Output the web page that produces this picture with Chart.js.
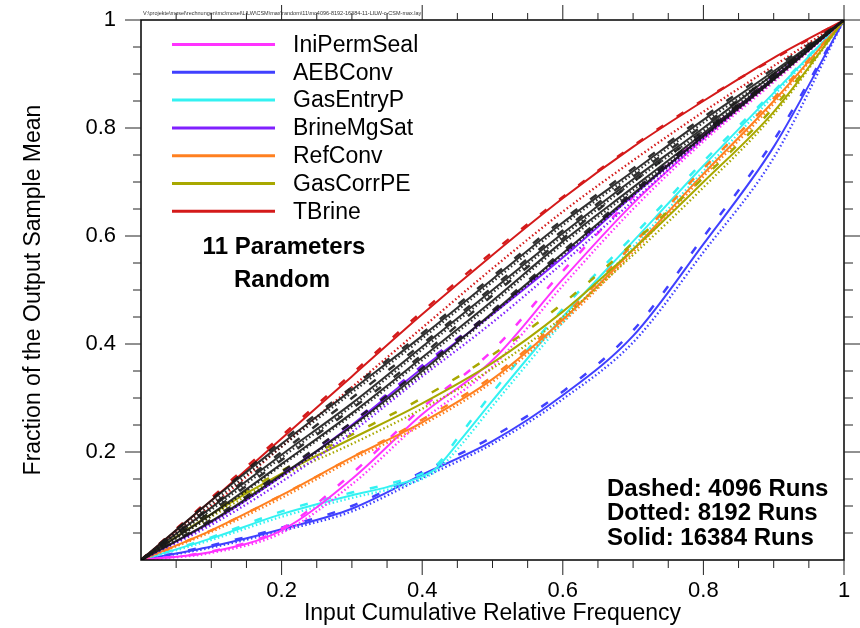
<!DOCTYPE html>
<html>
<head>
<meta charset="utf-8">
<script src="https://cdn.jsdelivr.net/npm/chart.js@4/dist/chart.umd.min.js"></script>
<style>
  html, body { margin: 0; padding: 0; background: #fff; }
  canvas { display: block; }
</style>
</head>
<body>
<canvas id="chart" width="860" height="628"></canvas>
<script>
// input cumulative relative frequency (common grid)
const X = [0, 0.1, 0.2, 0.3, 0.4, 0.5, 0.6, 0.7, 0.8, 0.9, 1];
// finer grid for GasEntryP (kink near 0.4)
const XC = [0, 0.1, 0.2, 0.3, 0.35, 0.4, 0.42, 0.45, 0.5, 0.6, 0.7, 0.8, 0.9, 1];

// fraction of output sample mean: dashed = 4096, dotted = 8192, solid = 16384 runs
const tbrineDash  = [0, 0.115, 0.23, 0.345, 0.46, 0.57, 0.672, 0.767, 0.852, 0.928, 1];
const tbrineDot   = [0, 0.1, 0.21, 0.32, 0.43, 0.54, 0.645, 0.74, 0.83, 0.915, 1];
const tbrineSolid = [0, 0.11, 0.225, 0.34, 0.455, 0.565, 0.67, 0.765, 0.85, 0.93, 1];

const blk1Dash  = [0, 0.112, 0.22, 0.32, 0.42, 0.525, 0.63, 0.725, 0.82, 0.91, 1];
const blk1Dot   = [0, 0.105, 0.21, 0.31, 0.41, 0.515, 0.62, 0.715, 0.81, 0.9, 1];
const blk1Solid = [0, 0.11, 0.215, 0.315, 0.415, 0.52, 0.625, 0.72, 0.815, 0.905, 1];
const blk2Dash  = [0, 0.1, 0.2, 0.3, 0.4, 0.505, 0.61, 0.71, 0.805, 0.9, 1];
const blk2Dot   = [0, 0.093, 0.19, 0.285, 0.39, 0.495, 0.6, 0.7, 0.795, 0.895, 1];
const blk2Solid = [0, 0.097, 0.195, 0.29, 0.395, 0.5, 0.605, 0.705, 0.8, 0.9, 1];
const blk3Dash  = [0, 0.09, 0.185, 0.28, 0.38, 0.49, 0.595, 0.7, 0.795, 0.895, 1];
const blk3Dot   = [0, 0.082, 0.175, 0.268, 0.37, 0.475, 0.585, 0.685, 0.785, 0.89, 1];
const blk3Solid = [0, 0.085, 0.178, 0.272, 0.375, 0.48, 0.59, 0.69, 0.79, 0.893, 1];
const blk4Dash  = [0, 0.075, 0.163, 0.255, 0.355, 0.462, 0.572, 0.682, 0.79, 0.892, 1];
const blk4Dot   = [0, 0.07, 0.155, 0.245, 0.345, 0.455, 0.565, 0.675, 0.782, 0.888, 1];
const blk4Solid = [0, 0.072, 0.158, 0.248, 0.35, 0.458, 0.568, 0.678, 0.785, 0.89, 1];

const brineDash  = [0, 0.072, 0.16, 0.255, 0.36, 0.46, 0.565, 0.68, 0.79, 0.895, 1];
const brineDot   = [0, 0.065, 0.145, 0.237, 0.34, 0.44, 0.55, 0.665, 0.78, 0.89, 1];
const brineSolid = [0, 0.07, 0.155, 0.25, 0.355, 0.455, 0.56, 0.675, 0.785, 0.893, 1];

const gascorrDash  = [0, 0.088, 0.165, 0.232, 0.3, 0.38, 0.475, 0.587, 0.708, 0.838, 1];
const gascorrDot   = [0, 0.08, 0.155, 0.215, 0.28, 0.355, 0.45, 0.565, 0.69, 0.825, 1];
const gascorrSolid = [0, 0.085, 0.16, 0.225, 0.29, 0.365, 0.46, 0.575, 0.7, 0.83, 1];

const refconvDash  = [0, 0.055, 0.12, 0.19, 0.26, 0.34, 0.45, 0.585, 0.725, 0.855, 1];
const refconvDot   = [0, 0.052, 0.115, 0.185, 0.25, 0.33, 0.44, 0.57, 0.71, 0.845, 1];
const refconvSolid = [0, 0.055, 0.12, 0.19, 0.255, 0.335, 0.445, 0.575, 0.715, 0.85, 1];

const inipermDash  = [0, 0.016, 0.058, 0.16, 0.282, 0.388, 0.535, 0.672, 0.788, 0.894, 1];
const inipermDot   = [0, 0.013, 0.05, 0.14, 0.258, 0.358, 0.508, 0.65, 0.775, 0.885, 1];
const inipermSolid = [0, 0.015, 0.055, 0.15, 0.27, 0.37, 0.52, 0.66, 0.78, 0.89, 1];

const gasentryDash  = [0, 0.042, 0.09, 0.125, 0.14, 0.16, 0.175, 0.225, 0.31, 0.465, 0.6, 0.738, 0.868, 1];
const gasentryDot   = [0, 0.037, 0.08, 0.115, 0.13, 0.15, 0.165, 0.205, 0.285, 0.44, 0.58, 0.72, 0.86, 1];
const gasentrySolid = [0, 0.04, 0.085, 0.12, 0.135, 0.155, 0.17, 0.215, 0.295, 0.45, 0.59, 0.73, 0.865, 1];

const aebDash  = [0, 0.027, 0.06, 0.1, 0.163, 0.228, 0.312, 0.425, 0.598, 0.777, 1];
const aebDot   = [0, 0.023, 0.054, 0.09, 0.152, 0.215, 0.298, 0.403, 0.57, 0.745, 1];
const aebSolid = [0, 0.025, 0.057, 0.095, 0.158, 0.22, 0.305, 0.415, 0.585, 0.765, 1];

const legendNames  = ['IniPermSeal', 'AEBConv', 'GasEntryP', 'BrineMgSat', 'RefConv', 'GasCorrPE', 'TBrine'];
const legendColors = ['#ff33ff', '#4040ff', '#33f2f2', '#8020ff', '#ff8020', '#a8a800', '#d41a1a'];
const notes = ['Dashed: 4096 Runs', 'Dotted: 8192 Runs', 'Solid: 16384 Runs'];
const pathText = 'V:\\projekte\\mosel\\rechnungen\\mc\\mosel\\LILW\\CSM\\max\\random\\11\\mc4096-8192-16384-11-LILW-c-CSM-max.lay';

const black = 'rgba(25,25,25,0.9)';
const params = [
  { xs: X, color: black, d: blk1Dash, t: blk1Dot, s: blk1Solid },
  { xs: X, color: black, d: blk2Dash, t: blk2Dot, s: blk2Solid },
  { xs: X, color: black, d: blk3Dash, t: blk3Dot, s: blk3Solid },
  { xs: X, color: black, d: blk4Dash, t: blk4Dot, s: blk4Solid },
  { xs: X, color: legendColors[6], d: tbrineDash, t: tbrineDot, s: tbrineSolid },
  { xs: X, color: legendColors[3], d: brineDash, t: brineDot, s: brineSolid },
  { xs: X, color: legendColors[5], d: gascorrDash, t: gascorrDot, s: gascorrSolid },
  { xs: X, color: legendColors[4], d: refconvDash, t: refconvDot, s: refconvSolid },
  { xs: X, color: legendColors[0], d: inipermDash, t: inipermDot, s: inipermSolid },
  { xs: XC, color: legendColors[2], d: gasentryDash, t: gasentryDot, s: gasentrySolid },
  { xs: X, color: legendColors[1], d: aebDash, t: aebDot, s: aebSolid },
];

function pts(xs, ys) {
  return xs.map((x, i) => ({ x: x, y: ys[i] }));
}

let datasets = [];
params.forEach(p => {
  datasets.push({ data: pts(p.xs, p.d), borderColor: p.color, borderWidth: 2.5, borderDash: [8, 16] });
  datasets.push({ data: pts(p.xs, p.t), borderColor: p.color, borderWidth: 2.3, borderDash: [1.5, 2.5] });
  datasets.push({ data: pts(p.xs, p.s), borderColor: p.color, borderWidth: 2 });
});

const FONT = "'Liberation Sans', Arial, sans-serif";

const decor = {
  id: 'decor',
  afterDraw(chart) {
    const ctx = chart.ctx;
    const a = chart.chartArea;
    const xs = chart.scales.x, ys = chart.scales.y;
    ctx.save();
    // frame
    ctx.strokeStyle = '#000';
    ctx.lineWidth = 1.5;
    ctx.strokeRect(a.left, a.top, a.right - a.left, a.bottom - a.top);
    // tick marks every 0.05, long ones every 0.2
    ctx.lineWidth = 1;
    ctx.strokeStyle = '#222';
    for (let i = 1; i <= 20; i++) {
      const v = i * 0.05;
      const major = i % 4 === 0;
      const px = xs.getPixelForValue(v);
      const py = ys.getPixelForValue(v);
      ctx.beginPath();
      ctx.moveTo(px, a.bottom); ctx.lineTo(px, a.bottom + (major ? 15 : 8));
      ctx.moveTo(px, a.top); ctx.lineTo(px, a.top - (major ? 15 : 7));
      ctx.moveTo(a.left, py); ctx.lineTo(a.left - (major ? 16 : 8), py);
      ctx.moveTo(a.right, py); ctx.lineTo(a.right + (major ? 17 : 9), py);
      ctx.stroke();
    }
    // file path
    ctx.fillStyle = '#333';
    ctx.font = '5.5px ' + FONT;
    ctx.textBaseline = 'middle';
    ctx.textAlign = 'left';
    ctx.fillText(pathText, a.left + 2, 13);
    // legend
    ctx.font = '23px ' + FONT;
    ctx.fillStyle = '#000';
    legendNames.forEach((name, i) => {
      const y = 44.5 + i * 27.8;
      ctx.strokeStyle = legendColors[i];
      ctx.lineWidth = 3;
      ctx.beginPath();
      ctx.moveTo(172, y); ctx.lineTo(275, y);
      ctx.stroke();
      ctx.fillText(name, 293, y + 1);
    });
    ctx.font = 'bold 24px ' + FONT;
    ctx.textAlign = 'center';
    ctx.fillText('11 Parameters', 284, 247);
    ctx.fillText('Random', 282, 280);
    ctx.textAlign = 'left';
    notes.forEach((t, i) => ctx.fillText(t, 607, 489 + i * 24.5));
    ctx.restore();
  }
};

const ctx = document.getElementById('chart').getContext('2d');
const chart = new Chart(ctx, {
  type: 'line',
  data: { datasets: datasets },
  options: {
    responsive: false,
    animation: false,
    layout: { padding: { top: 20, right: 16, left: 0, bottom: 0 } },
    elements: {
      point: { radius: 0 },
      line: { tension: 0, cubicInterpolationMode: 'monotone', fill: false }
    },
    plugins: { legend: { display: false }, tooltip: { enabled: false } },
    scales: {
      x: {
        type: 'linear', min: 0, max: 1,
        grid: { display: false, drawTicks: false },
        border: { display: false },
        afterFit: s => { s.height = 68; s.paddingLeft = 0; s.paddingRight = 0; },
        ticks: {
          stepSize: 0.2, padding: 18, color: '#000', maxRotation: 0, autoSkip: false,
          font: { family: FONT, size: 22 },
          callback: v => v === 0 ? '' : (v === 1 ? '1' : v.toFixed(1))
        },
        title: {
          display: true, text: 'Input Cumulative Relative Frequency', color: '#000',
          font: { family: FONT, size: 23 }, padding: { top: 0, bottom: 1 }
        }
      },
      y: {
        type: 'linear', min: 0, max: 1,
        grid: { display: false, drawTicks: false },
        border: { display: false },
        afterFit: s => { s.width = 141; s.paddingTop = 0; s.paddingBottom = 0; },
        ticks: {
          stepSize: 0.2, padding: 25, color: '#000',
          font: { family: FONT, size: 22 },
          callback: v => v === 0 ? '' : (v === 1 ? '1' : v.toFixed(1))
        },
        title: {
          display: true, text: 'Fraction of the Output Sample Mean', color: '#000',
          font: { family: FONT, size: 23 }, padding: { top: 20, bottom: 0 }
        }
      }
    }
  },
  plugins: [decor]
});
</script>
</body>
</html>
